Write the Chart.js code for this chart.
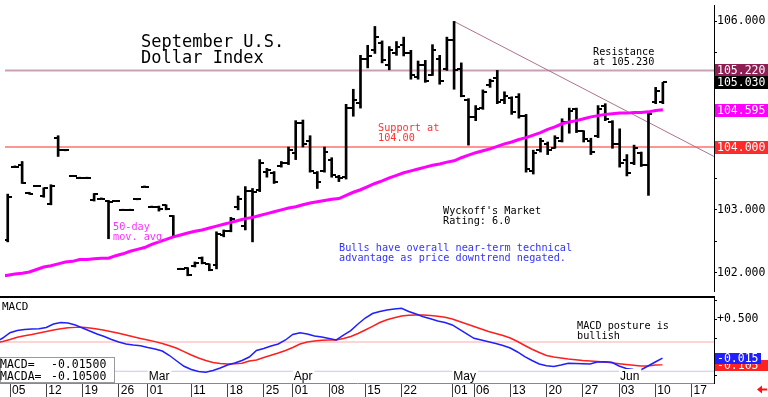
<!DOCTYPE html>
<html>
<head>
<meta charset="utf-8">
<title>September U.S. Dollar Index</title>
<script src="https://cdn.jsdelivr.net/npm/chart.js@4.4.1/dist/chart.umd.min.js"></script>
<style>
  html, body { margin: 0; padding: 0; background: #fff; }
  canvas { display: block; }
</style>
</head>
<body>
<canvas id="priceChart" width="768" height="296"></canvas>
<canvas id="macdChart" width="768" height="101"></canvas>
<script>
// trading-day index: Feb 05 = 0 (Good Friday skipped)
const firstBar = -1;
const opens = [
  102.52, 103.69, 103.72, 103.27, 103.38, 103.22, 103.10, 104.15, 103.95, 103.54,
  103.51, 103.51, 103.15, 103.18, 103.14, 103.14, 103.00, 103.00, 103.17, 103.37,
  103.05, 103.05, 103.07, 102.90, 102.06, 102.07, 102.10, 102.24, 102.13, 102.12,
  102.60, 102.66, 103.05, 102.75, 103.30, 103.32, 103.60, 103.58, 103.70, 103.75,
  103.90, 104.38, 104.10, 103.58, 103.62, 103.80, 103.52, 103.52, 104.62, 104.70,
  105.40, 105.55, 105.65, 105.30, 105.50, 105.62, 105.50, 105.12, 105.30, 105.15,
  105.40, 105.25, 105.70, 105.25, 104.75, 104.48, 104.62, 104.98, 105.10, 104.75,
  104.78, 104.80, 104.50, 103.62, 103.95, 104.05, 103.98, 104.10, 104.40, 104.60,
  104.25, 104.10, 104.18, 104.65, 104.40, 104.05, 103.80, 103.75, 103.90, 103.72,
  104.72, 104.72
];
const highs = [
  103.25, 103.70, 103.77, 103.28, 103.39, 103.35, 103.40, 104.18, 103.96, 103.55,
  103.52, 103.52, 103.26, 103.19, 103.15, 103.15, 103.01, 103.01, 103.18, 103.38,
  103.06, 103.06, 103.08, 102.91, 102.07, 102.08, 102.17, 102.25, 102.14, 102.65,
  102.68, 102.88, 103.22, 103.37, 103.34, 103.80, 103.66, 103.61, 103.77, 104.00,
  104.42, 104.43, 104.18, 103.61, 104.00, 103.83, 103.55, 104.68, 104.92, 105.46,
  105.62, 105.92, 105.69, 105.60, 105.68, 105.75, 105.54, 105.37, 105.38, 105.63,
  105.46, 105.75, 106.00, 105.34, 104.77, 104.66, 104.91, 105.08, 105.22, 104.88,
  104.80, 104.85, 104.52, 103.95, 104.14, 104.08, 104.18, 104.45, 104.62, 104.62,
  104.26, 104.14, 104.66, 104.69, 104.42, 104.29, 103.88, 104.03, 103.92, 104.54,
  104.95, 105.03
];
const lows = [
  102.49, 103.68, 103.42, 103.25, 103.37, 103.20, 103.08, 103.85, 103.94, 103.53,
  103.50, 103.50, 103.14, 103.17, 102.54, 103.13, 102.99, 102.99, 103.16, 103.36,
  103.04, 102.98, 103.00, 102.57, 102.05, 101.95, 102.09, 102.14, 102.03, 102.06,
  102.57, 102.65, 103.00, 102.68, 102.49, 103.29, 103.52, 103.42, 103.68, 103.72,
  103.80, 104.00, 103.60, 103.34, 103.60, 103.52, 103.45, 103.49, 104.49, 104.62,
  105.26, 105.49, 105.34, 105.23, 105.46, 105.45, 105.08, 105.08, 105.03, 105.14,
  105.00, 105.22, 104.92, 104.80, 104.03, 104.42, 104.60, 104.95, 104.69, 104.69,
  104.52, 104.46, 103.60, 103.57, 103.92, 103.88, 103.98, 104.08, 104.22, 104.23,
  104.08, 103.88, 104.15, 104.42, 103.98, 103.68, 103.54, 103.72, 103.69, 103.23,
  104.69, 104.69
];
const closes = [
  103.20, 103.69, 103.43, 103.26, 103.38, 103.34, 103.38, 103.95, 103.95, 103.54,
  103.51, 103.51, 103.25, 103.18, 103.12, 103.14, 103.00, 103.00, 103.17, 103.37,
  103.05, 103.02, 103.01, 102.58, 102.06, 101.96, 102.16, 102.15, 102.04, 102.62,
  102.67, 102.86, 103.18, 103.30, 103.29, 103.75, 103.64, 103.45, 103.75, 103.95,
  104.38, 104.05, 103.62, 103.45, 103.92, 103.55, 103.50, 104.62, 104.75, 105.40,
  105.45, 105.75, 105.38, 105.55, 105.60, 105.50, 105.15, 105.30, 105.05, 105.55,
  105.05, 105.70, 105.22, 104.82, 104.48, 104.60, 104.88, 105.05, 104.72, 104.82,
  104.55, 104.50, 103.65, 103.90, 104.10, 103.95, 104.15, 104.40, 104.58, 104.25,
  104.12, 103.92, 104.60, 104.45, 104.05, 103.75, 103.58, 103.98, 103.72, 104.52,
  104.90, 105.03
];

// 50-day moving average
const maStart = -2;
const ma50 = [
  101.94, 101.96, 101.98, 101.99, 102.01, 102.05, 102.09, 102.11, 102.14, 102.17,
  102.18, 102.21, 102.21, 102.22, 102.23, 102.23, 102.27, 102.30, 102.34, 102.37,
  102.40, 102.45, 102.49, 102.53, 102.57, 102.60, 102.63, 102.66, 102.68, 102.71,
  102.74, 102.77, 102.80, 102.83, 102.86, 102.88, 102.91, 102.94, 102.97, 103.00,
  103.03, 103.05, 103.08, 103.11, 103.13, 103.15, 103.17, 103.18, 103.23, 103.28,
  103.32, 103.37, 103.42, 103.46, 103.51, 103.55, 103.59, 103.62, 103.65, 103.68,
  103.71, 103.73, 103.76, 103.78, 103.83, 103.87, 103.91, 103.94, 103.97, 104.01,
  104.05, 104.08, 104.12, 104.15, 104.19, 104.23, 104.28, 104.32, 104.37, 104.40,
  104.42, 104.45, 104.48, 104.50, 104.52, 104.53, 104.54, 104.54, 104.55, 104.55,
  104.56, 104.58, 104.595
];

// MACD (blue) and MACDA signal (red)
const macdStart = -2;
const macdLine = [
  0.20, 0.253, 0.324, 0.353, 0.367, 0.373, 0.377, 0.393, 0.44, 0.46,
  0.453, 0.427, 0.387, 0.347, 0.307, 0.273, 0.233, 0.20, 0.173, 0.16,
  0.151, 0.127, 0.107, 0.08, 0.02, -0.053, -0.124, -0.167, -0.193, -0.204,
  -0.18, -0.147, -0.107, -0.08, -0.047, 0.0, 0.087, 0.113, 0.147, 0.173,
  0.227, 0.30, 0.324, 0.307, 0.28, 0.267, 0.247, 0.227, 0.293, 0.353,
  0.44, 0.52, 0.58, 0.607, 0.627, 0.64, 0.649, 0.607, 0.573, 0.537,
  0.509, 0.48, 0.46, 0.427, 0.367, 0.307, 0.249, 0.227, 0.204, 0.18,
  0.153, 0.12, 0.067, 0.004, -0.047, -0.093, -0.116, -0.127, -0.107, -0.084,
  -0.087, -0.091, -0.093, -0.067, -0.064, -0.071, -0.12, -0.153, -0.167, -0.173,
  -0.12, -0.067, -0.015
];
const signalLine = [
  0.19, 0.207, 0.233, 0.263, 0.283, 0.30, 0.32, 0.34, 0.36, 0.376,
  0.391, 0.395, 0.396, 0.387, 0.373, 0.356, 0.336, 0.316, 0.293, 0.269,
  0.248, 0.227, 0.205, 0.18, 0.149, 0.116, 0.072, 0.027, -0.013, -0.047,
  -0.073, -0.087, -0.093, -0.089, -0.084, -0.053, -0.04, -0.007, 0.023, 0.053,
  0.087, 0.127, 0.173, 0.20, 0.213, 0.224, 0.227, 0.227, 0.247, 0.273,
  0.313, 0.36, 0.409, 0.46, 0.497, 0.523, 0.547, 0.556, 0.56, 0.56,
  0.553, 0.543, 0.529, 0.507, 0.473, 0.44, 0.407, 0.373, 0.34, 0.313,
  0.287, 0.253, 0.207, 0.153, 0.103, 0.06, 0.02, 0.0, -0.013, -0.027,
  -0.036, -0.047, -0.053, -0.06, -0.067, -0.076, -0.089, -0.10, -0.111, -0.12,
  -0.12, -0.107, -0.105
];

// date axis
const dayTicks  = [0, 5, 10, 15, 19, 25, 30, 35, 39, 44, 49, 54, 61, 64, 69, 74, 79, 84, 89, 94];
const dayLabels = ['05', '12', '19', '26', '01', '11', '18', '25', '01', '08', '15', '22', '01', '06', '13', '20', '27', '03', '10', '17'];
const monthTicks  = [19, 39, 61, 84];
const monthLabels = ['Mar', 'Apr', 'May', 'Jun'];

const priceTicks = [102, 102.5, 103, 103.5, 104, 104.5, 105, 105.5, 106];
const macdTicks = [-0.25, 0, 0.25, 0.5, 0.75];

const resistance = 105.22;
const support = 104.00;
const trendStart = { day: 61, price: 106.00 };
const trendEnd = { day: 97.1, price: 103.85 };
const macdUpper = 0.2;
const macdLower = -0.19;

const priceTags = [
  { value: 105.22, color: '#8e1f55' },
  { value: 105.03, color: '#000000' },
  { value: 104.595, color: '#ff00ff' },
  { value: 104.00, color: '#ff2a2a' }
];
const macdTags = [
  { value: -0.105, color: '#ff2020', width: 53 },
  { value: -0.015, color: '#2020ff', width: 46 }
];
const macdReadout = { macd: -0.015, macda: -0.105 };

// axis ranges
const xMin = -10 / 7.25;
const xMax = 704 / 7.25;
const MONO = '"DejaVu Sans Mono", monospace';

function tickImage(side) {
  const c = document.createElement('canvas');
  c.width = 8;
  c.height = 2;
  const g = c.getContext('2d');
  g.fillStyle = '#000';
  g.fillRect(side === 'left' ? 0 : 4, 0, 4, 2);
  return c;
}

function flatLine(level) {
  return [{ x: xMin, y: level }, { x: xMax, y: level }];
}

function multiline(ctx, lines, x, y, step) {
  lines.forEach((t, k) => ctx.fillText(t, x, y + k * step));
}

/* --------------------------
   Price panel
   -------------------------- */
const priceNotes = {
  id: 'priceNotes',
  afterDraw(chart) {
    const { ctx, chartArea, scales } = chart;
    ctx.save();
    ctx.textAlign = 'left';
    ctx.textBaseline = 'alphabetic';

    ctx.fillStyle = '#000';
    ctx.font = '17px ' + MONO;
    multiline(ctx, ['September U.S.', 'Dollar Index'], 141, 46.5, 16.5);

    ctx.font = '10.2px ' + MONO;
    multiline(ctx, ['Resistance', 'at 105.230'], 593, 55, 9.5);
    multiline(ctx, ["Wyckoff's Market", 'Rating: 6.0'], 443, 214, 10);

    ctx.fillStyle = '#ff3030';
    multiline(ctx, ['Support at', '104.00'], 378, 131, 10);

    ctx.fillStyle = '#3333ff';
    multiline(ctx, ['Bulls have overall near-term technical', 'advantage as price downtrend negated.'], 339, 251, 10);

    ctx.fillStyle = '#ff33ff';
    multiline(ctx, ['50-day', 'mov. avg.'], 113, 230, 10);

    // value tags on the right axis
    ctx.font = '11.5px ' + MONO;
    ctx.textBaseline = 'middle';
    priceTags.forEach(t => {
      const y = scales.y.getPixelForValue(t.value);
      ctx.fillStyle = t.color;
      ctx.fillRect(chartArea.right + 1, Math.round(y) - 6, chart.width - chartArea.right - 1, 13);
      ctx.fillStyle = '#fff';
      ctx.fillText(t.value.toFixed(3), chartArea.right + 3, Math.round(y) + 1);
    });
    ctx.restore();
  }
};

new Chart(document.getElementById('priceChart'), {
  type: 'bar',
  data: {
    datasets: [
      {
        type: 'line',
        data: ma50.map((v, k) => ({ x: maStart + k, y: v })),
        borderColor: '#ff00ff',
        borderWidth: 3,
        pointRadius: 0,
        order: 1
      },
      {
        type: 'bar',
        data: highs.map((h, k) => ({ x: firstBar + k, y: [lows[k], h] })),
        backgroundColor: '#000',
        barThickness: 2,
        minBarLength: 1,
        grouped: false,
        order: 2
      },
      {
        type: 'scatter',
        data: opens.map((v, k) => ({ x: firstBar + k, y: v })),
        pointStyle: tickImage('left'),
        pointRadius: 4,
        order: 2
      },
      {
        type: 'scatter',
        data: closes.map((v, k) => ({ x: firstBar + k, y: v })),
        pointStyle: tickImage('right'),
        pointRadius: 4,
        order: 2
      },
      {
        type: 'line',
        data: [{ x: trendStart.day, y: trendStart.price }, { x: trendEnd.day, y: trendEnd.price }],
        borderColor: '#b07090',
        borderWidth: 1,
        pointRadius: 0,
        order: 3
      },
      {
        type: 'line',
        data: flatLine(resistance),
        borderColor: '#c9a0b8',
        borderWidth: 2,
        pointRadius: 0,
        order: 4
      },
      {
        type: 'line',
        data: flatLine(support),
        borderColor: '#ff7070',
        borderWidth: 1.5,
        pointRadius: 0,
        order: 4
      }
    ]
  },
  options: {
    responsive: false,
    animation: false,
    events: [],
    layout: { padding: 0 },
    plugins: { legend: { display: false }, tooltip: { enabled: false } },
    scales: {
      x: { type: 'linear', min: xMin, max: xMax, offset: false, display: false },
      y: {
        type: 'linear',
        position: 'right',
        min: 106 + 17 / 65,
        max: 106 + 17 / 65,
        afterDataLimits(s) { s.min = 106 + 17 / 65 - 296 / 65; s.max = 106 + 17 / 65; },
        afterBuildTicks(s) { s.ticks = priceTicks.map(v => ({ value: v })); },
        afterFit(s) { s.width = 54; s.paddingTop = 0; s.paddingBottom = 0; },
        grid: { drawOnChartArea: false, drawTicks: true, tickLength: 3, color: '#000' },
        border: { display: true, color: '#000', width: 1 },
        ticks: {
          padding: 0,
          color: '#000',
          font: { family: 'DejaVu Sans Mono', size: 11.5 },
          callback: v => (Number.isInteger(v) ? v.toFixed(3) : '')
        }
      }
    }
  },
  plugins: [priceNotes]
});

/* --------------------------
   MACD panel + date axis
   -------------------------- */
const macdNotes = {
  id: 'macdNotes',
  afterDraw(chart) {
    const { ctx, chartArea, scales } = chart;
    ctx.save();
    ctx.fillStyle = '#000';
    ctx.fillRect(0, 0, chartArea.right, 2);

    ctx.textAlign = 'left';
    ctx.textBaseline = 'alphabetic';
    ctx.font = '11px ' + MONO;
    ctx.fillText('MACD', 2, 14);

    ctx.font = '10.2px ' + MONO;
    multiline(ctx, ['MACD posture is', 'bullish'], 577, 32.5, 10);

    // month names on the lower band
    ctx.font = '12px "Liberation Sans", Arial, sans-serif';
    monthTicks.forEach((d, k) => {
      const x = scales.x.getPixelForValue(d) + 1;
      const w = ctx.measureText(monthLabels[k]).width;
      ctx.fillStyle = '#fff';
      ctx.fillRect(x - 1, chartArea.bottom - 14, w + 3, 13);
      ctx.fillStyle = '#000';
      ctx.fillText(monthLabels[k], x, chartArea.bottom - 3);
    });

    // readout box
    const top = chartArea.bottom - 26;
    ctx.fillStyle = '#fff';
    ctx.fillRect(0, top, 115, 26);
    ctx.strokeStyle = '#9a9a9a';
    ctx.lineWidth = 1;
    ctx.strokeRect(0.5, top + 0.5, 114, 25);
    ctx.fillStyle = '#000';
    ctx.font = '11.5px ' + MONO;
    ctx.fillText('MACD=', 0, top + 10.5);
    ctx.fillText(macdReadout.macd.toFixed(5), 51, top + 10.5);
    ctx.fillText('MACDA=', 0, top + 23);
    ctx.fillText(macdReadout.macda.toFixed(5), 51, top + 23);

    // value tags
    ctx.textBaseline = 'middle';
    macdTags.forEach(t => {
      const y = Math.round(scales.y.getPixelForValue(t.value));
      ctx.fillStyle = t.color;
      ctx.fillRect(chartArea.right + 1, y - 5, t.width, 11);
      ctx.fillStyle = '#fff';
      ctx.fillText(t.value.toFixed(3), chartArea.right + 3, y + 1);
    });

    // red arrow bottom right
    ctx.fillStyle = '#ff1010';
    ctx.beginPath();
    ctx.moveTo(757, 93.5);
    ctx.lineTo(762, 89.5);
    ctx.lineTo(762, 97.5);
    ctx.closePath();
    ctx.fill();
    ctx.fillRect(761, 92.5, 6, 2);
    ctx.restore();
  }
};

new Chart(document.getElementById('macdChart'), {
  type: 'line',
  data: {
    datasets: [
      {
        data: macdLine.map((v, k) => ({ x: macdStart + k, y: v })),
        borderColor: '#1f1fff',
        borderWidth: 1.5,
        pointRadius: 0,
        order: 1
      },
      {
        data: signalLine.map((v, k) => ({ x: macdStart + k, y: v })),
        borderColor: '#ff1f1f',
        borderWidth: 1.5,
        pointRadius: 0,
        order: 2
      },
      {
        data: flatLine(macdUpper),
        borderColor: '#ffd4d4',
        borderWidth: 2,
        pointRadius: 0,
        order: 3
      },
      {
        data: flatLine(macdLower),
        borderColor: '#c4c4ff',
        borderWidth: 1,
        pointRadius: 0,
        order: 3
      }
    ]
  },
  options: {
    responsive: false,
    animation: false,
    events: [],
    layout: { padding: 0 },
    plugins: { legend: { display: false }, tooltip: { enabled: false } },
    scales: {
      x: {
        type: 'linear',
        min: xMin,
        max: xMax,
        offset: false,
        afterBuildTicks(s) { s.ticks = dayTicks.map(v => ({ value: v })); },
        afterFit(s) { s.height = 14; s.paddingLeft = 0; s.paddingRight = 0; },
        grid: { drawOnChartArea: false, drawTicks: true, tickLength: 14, color: '#444' },
        border: { display: true, color: '#888', width: 1 },
        ticks: {
          autoSkip: false,
          maxRotation: 0,
          minRotation: 0,
          align: 'start',
          labelOffset: 2,
          padding: -14,
          color: '#000',
          font: { family: 'Liberation Sans', size: 12 },
          callback: (v, i) => dayLabels[i]
        }
      },
      y: {
        type: 'linear',
        position: 'right',
        min: -26 / 75,
        max: 61 / 75,
        afterBuildTicks(s) { s.ticks = macdTicks.map(v => ({ value: v })); },
        afterFit(s) { s.width = 54; s.paddingTop = 0; s.paddingBottom = 0; },
        grid: { drawOnChartArea: false, drawTicks: true, tickLength: 3, color: '#000' },
        border: { display: true, color: '#000', width: 1 },
        ticks: {
          padding: 0,
          color: '#000',
          font: { family: 'DejaVu Sans Mono', size: 11.5 },
          callback: v => (v === 0.5 ? '+0.500' : '')
        }
      }
    }
  },
  plugins: [macdNotes]
});
</script>
</body>
</html>
